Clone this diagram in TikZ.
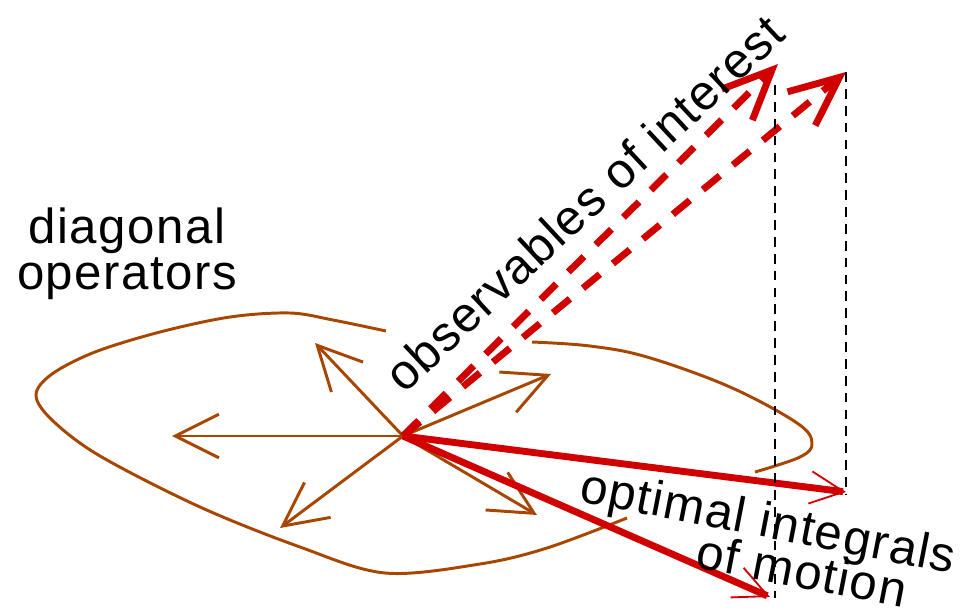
\documentclass[tikz,border=0pt]{standalone}
\usepackage{fontspec}
\usepackage{tikz}
\usetikzlibrary{arrows.meta}
\setmainfont{Liberation Sans}
\newfontfamily\labelfont[LetterSpace=3]{Liberation Sans}
\definecolor{opbrown}{RGB}{168,70,0}
\definecolor{obsred}{RGB}{208,0,0}

\begin{document}
\begin{tikzpicture}[x=0.025cm, y=-0.025cm,
  lbl/.style={inner sep=0pt, font=\labelfont\fontsize{35pt}{32.7pt}\selectfont},
  opvec/.style={-{Straight Barb[length=31pt,width=31pt]}, opbrown, line width=2.1pt},
  obsvec/.style={-{Straight Barb[length=35pt,width=31pt]}, obsred, line width=4.9pt, dash pattern=on 15.6pt off 12pt},
  intvec/.style={-{Straight Barb[length=24pt,width=23pt,line width=1.3pt]}, obsred, line width=4.9pt},
  proj/.style={black, line width=1.05pt, dash pattern=on 7pt off 5pt}]
  \useasboundingbox (0,0) rectangle (960,608);

  % operator space (broken outline)
  \draw[opbrown, line width=2.1pt] plot[smooth, tension=0.55] coordinates {(386,331) (333,320) (290,313) (230,317) (160,332) (95,352) (52,374) (36,395) (52,420) (100,456) (200,507) (300,547) (385,573) (480,564) (547,548) (627,518)};
  \draw[opbrown, line width=2.1pt] plot[smooth, tension=0.6] coordinates {(532,342) (590,346) (647,357) (730,387) (797,423) (812,443) (800,457) (755,472)};

  \coordinate (h) at (403,436);
  \coordinate (l) at (172,436);
  \coordinate (ul) at (315,343);
  \coordinate (dl) at (280,528);
  \coordinate (ur) at (551,374);
  \coordinate (dr) at (537,515);
  \coordinate (o1) at (778,64);
  \coordinate (o2) at (846,72);
  \coordinate (i1) at (846,492);
  \coordinate (i2) at (770,597);
  \coordinate (t1) at (775,85);
  \coordinate (b1) at (775,598);
  \coordinate (b2) at (846,495);

  % diagonal operators
  \draw[opvec] (h) -- (l);
  \draw[opvec] (h) -- (ul);
  \draw[opvec] (h) -- (dl);
  \draw[opvec] (h) -- (ur);
  \draw[opvec] (h) -- (dr);

  % observables and their projections
  \draw[obsvec] (h) -- (o1);
  \draw[obsvec] (h) -- (o2);
  \draw[intvec] (h) -- (i1);
  \draw[intvec] (h) -- (i2);
  \draw[proj] (t1) -- (b1);
  \draw[proj] (o2) -- (b2);

  \node[lbl, align=center] (diag) at (127,254) {diagonal\\operators};
  \node[lbl, rotate=43, anchor=base west] (obs) at (404,395) {observables of interest};
  \node[lbl, rotate=-11, anchor=base west] (opt) at (578,501) {optimal integrals};
  \node[lbl, rotate=-11, anchor=base west] (mot) at (694,567) {of motion};
\end{tikzpicture}
\end{document}
